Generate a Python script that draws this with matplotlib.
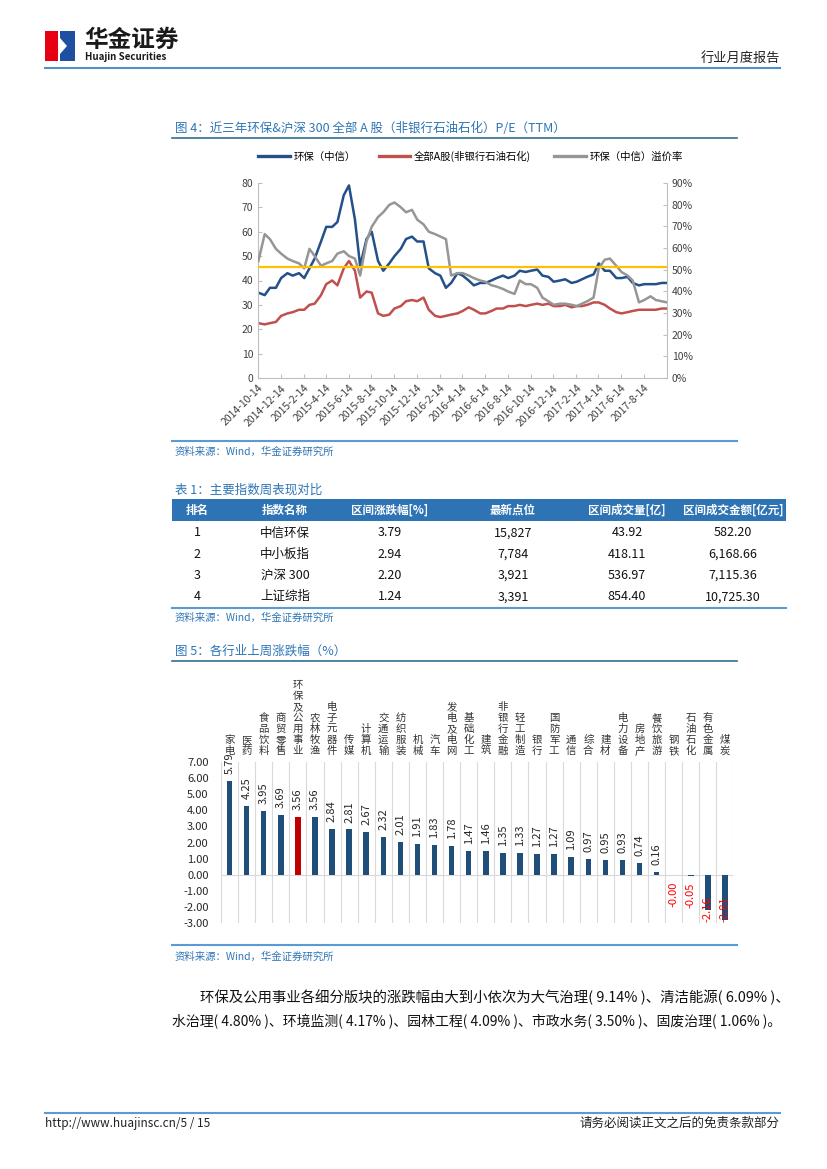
import numpy as np
import pandas as pd
import matplotlib
matplotlib.use("Agg")
import matplotlib.pyplot as plt
from matplotlib.patches import Rectangle, Polygon
from matplotlib.lines import Line2D

plt.rcParams['font.family'] = ['Noto Sans CJK SC', 'DejaVu Sans']
plt.rcParams['axes.unicode_minus'] = False

W, H = 827, 1169

# -----------------------------
# Figure 4 data (semi-monthly readings, Oct 2014 - Oct 2017)
# -----------------------------
pe_dates = pd.date_range("2014-10-14", "2017-10-15", freq="SMS")
pe_env = [35, 34, 37, 37, 41, 43, 42, 43, 41, 45,
          49, 56, 62, 62, 64, 75, 79, 65, 46, 57,
          60, 48, 44, 47, 50, 53, 57, 58, 56, 56,
          45, 43, 42, 37, 39, 43, 42, 40, 38, 39,
          39, 40, 41, 42, 41, 42, 44, 43.5, 44, 44.5,
          42, 41.5, 39.5, 40, 40.5, 39, 39.5, 40.5, 41.5, 42.5,
          47, 44, 44, 41, 41, 41.5, 39, 38, 38.5, 38.5,
          38.5, 39, 39]
pe_all_a = [22.5, 22, 22.5, 23, 25.5, 26.5, 27, 28, 28, 30,
            30.5, 34, 38.5, 40, 38, 45, 48, 44, 33, 35.5,
            35, 26.5, 25.5, 26, 28.5, 29.5, 31.5, 32, 31.5, 33,
            28, 25.5, 25, 25.5, 26, 26.5, 27.5, 29, 28, 26.5,
            26.5, 27.5, 28.5, 28.5, 29.5, 29.5, 30, 29.5, 30, 30.5,
            30, 30.5, 29.5, 29.5, 30, 29, 29.5, 29.5, 30, 31,
            31, 30, 28.5, 27, 26.5, 27, 27.5, 28, 28, 28,
            28, 28.5, 28.5]
premium = [54, 66.4, 64.1, 59.6, 57.4, 55.1, 54, 52.9, 50.6, 59.6,
           56.3, 51.8, 52.9, 54, 57.4, 58.5, 56.3, 55.1, 47.3, 63,
           69.8, 74.3, 76.5, 79.9, 81, 78.8, 76.5, 77.6, 73.1, 70.9,
           67.5, 66.4, 65.3, 64.1, 47.3, 48.4, 48.4, 47.3, 46.1, 45,
           44.4, 42.8, 42.2, 41.1, 39.9, 38.8, 45, 43.3, 43.3, 41.6,
           37.1, 35.4, 33.8, 34.3, 34.3, 33.8, 33.2, 34.3, 35.4, 37.1,
           50.6, 54.6, 55.1, 51.8, 48.9, 47.3, 45, 34.9, 36, 37.7,
           36, 35.4, 34.9]
premium_ref = 51.2
date_ticks = ["2014-10-14", "2014-12-14", "2015-2-14", "2015-4-14", "2015-6-14",
              "2015-8-14", "2015-10-14", "2015-12-14", "2016-2-14", "2016-4-14",
              "2016-6-14", "2016-8-14", "2016-10-14", "2016-12-14", "2017-2-14",
              "2017-4-14", "2017-6-14", "2017-8-14"]

# -----------------------------
# Table 1 data
# -----------------------------
tbl_header = ["排名", "指数名称", "区间涨跌幅[%]", "最新点位", "区间成交量[亿]", "区间成交金额[亿元]"]
tbl_rank = [1, 2, 3, 4]
tbl_name = ["中信环保", "中小板指", "沪深 300", "上证综指"]
tbl_chg = [3.79, 2.94, 2.20, 1.24]
tbl_last = [15827, 7784, 3921, 3391]
tbl_vol = [43.92, 418.11, 536.97, 854.40]
tbl_amt = [582.20, 6168.66, 7115.36, 10725.30]

# -----------------------------
# Figure 5 data
# -----------------------------
industries = ["家电", "医药", "食品饮料", "商贸零售", "环保及公用事业", "农林牧渔", "电子元器件",
              "传媒", "计算机", "交通运输", "纺织服装", "机械", "汽车", "发电及电网", "基础化工",
              "建筑", "非银行金融", "轻工制造", "银行", "国防军工", "通信", "综合", "建材",
              "电力设备", "房地产", "餐饮旅游", "钢铁", "石油石化", "有色金属", "煤炭"]
changes = [5.79, 4.25, 3.95, 3.69, 3.56, 3.56, 2.84, 2.81, 2.67, 2.32, 2.01, 1.91, 1.83, 1.78,
           1.47, 1.46, 1.35, 1.33, 1.27, 1.27, 1.09, 0.97, 0.95, 0.93, 0.74, 0.16, -0.001,
           -0.05, -2.16, -2.81]
highlight = "环保及公用事业"

TITLE_BLUE = '#2E75B6'
RULE_BLUE = '#5B9BD5'
NAVY = '#24508A'
BAR_NAVY = '#1F4E79'

fig = plt.figure(figsize=(W / 100, H / 100), dpi=100)
bg = fig.add_axes([0, 0, 1, 1], zorder=0)
bg.set_xlim(0, W)
bg.set_ylim(H, 0)
bg.axis('off')


def px_axes(x0, y0, x1, y1):
    return fig.add_axes([x0 / W, 1 - y1 / H, (x1 - x0) / W, (y1 - y0) / H])


def hline(y, x0, x1, color=RULE_BLUE, lw=1.5):
    bg.add_line(Line2D([x0, x1], [y, y], color=color, lw=lw))


def source(y):
    bg.text(175, y, "资料来源：Wind，华金证券研究所", fontsize=7.5, color=TITLE_BLUE,
            style='italic', va='center')


# ---- page header
bg.add_patch(Rectangle((45, 31), 13, 30, fc='#E60012', ec='none'))
bg.add_patch(Rectangle((60, 31), 15, 30, fc='#1F4FA0', ec='none'))
bg.add_patch(Polygon([(60, 38), (67, 46), (60, 54)], fc='white', ec='none'))
bg.text(84, 40, "华金证券", fontsize=17, fontweight='bold', color='#1A1A1A', va='center')
bg.text(85, 57, "Huajin Securities", fontsize=7, fontweight='bold', color='#1A1A1A', va='center')
bg.text(780, 58, "行业月度报告", fontsize=9.5, color='#222222', ha='right', va='center')
hline(68, 45, 780, color='#4F8FCB')

# ---- figure 4
bg.text(175, 128, "图 4：近三年环保&沪深 300 全部 A 股（非银行石油石化）P/E（TTM）",
        fontsize=9, color=TITLE_BLUE, va='center')
hline(138, 172, 737, color='#31708F', lw=1.2)

ax = px_axes(258, 183, 667, 378)
ax2 = ax.twinx()
l1, = ax.plot(pe_dates, pe_env, color=NAVY, lw=1.8, label="环保（中信）")
l2, = ax.plot(pe_dates, pe_all_a, color='#C0504D', lw=1.8, label="全部A股(非银行石油石化)")
l3, = ax2.plot(pe_dates, premium, color='#969696', lw=1.8, label="环保（中信）溢价率")
ax2.axhline(premium_ref, color='#FFC000', lw=1.6)
ax.set_ylim(0, 80)
ax2.set_ylim(0, 90)
ax.set_yticks(range(0, 81, 10))
ax2.set_yticks(range(0, 91, 10))
ax2.set_yticklabels([f"{v}%" for v in range(0, 91, 10)])
ax.set_xlim(pd.Timestamp("2014-10-14"), pd.Timestamp("2017-10-15"))
ax.set_xticks([pd.Timestamp(s) for s in date_ticks])
ax.set_xticklabels(date_ticks, rotation=45, ha='right', rotation_mode='anchor', fontsize=7)
for a in (ax, ax2):
    for s in a.spines.values():
        s.set_color('#BFBFBF')
    a.spines['top'].set_visible(False)
    a.tick_params(direction='in', length=3, color='#BFBFBF', labelsize=7.5, labelcolor='#404040')
ax.spines['right'].set_visible(False)
ax2.spines['left'].set_visible(False)
ax2.spines['bottom'].set_visible(False)
leg = ax.legend(handles=[l1, l2, l3], loc='lower center', bbox_to_anchor=(0.52, 1.06), ncol=3,
                frameon=False, fontsize=7.5, handlelength=3.0, columnspacing=2.2, handletextpad=0.4)
for h in leg.get_lines():
    h.set_linewidth(2.4)

hline(441, 172, 737)
source(452)

# ---- table 1
bg.text(175, 490, "表 1：主要指数周表现对比", fontsize=9, color=TITLE_BLUE, va='center')
bg.add_patch(Rectangle((172, 499), 614, 22, fc='#2E74B5', ec='none'))
col_x = [197, 285, 390, 513, 627, 733]
for cx, h in zip(col_x, tbl_header):
    bg.text(cx, 510.5, h, fontsize=8.3, fontweight='bold', color='white', ha='center', va='center')
for i in range(len(tbl_rank)):
    y = 533 + i * 21.3
    cells = [str(tbl_rank[i]), tbl_name[i], f"{tbl_chg[i]:.2f}", f"{tbl_last[i]:,}",
             f"{tbl_vol[i]:.2f}", f"{tbl_amt[i]:,.2f}"]
    for cx, c in zip(col_x, cells):
        bg.text(cx, y, c, fontsize=9, color='#111111', ha='center', va='center')
hline(608, 172, 786)
source(618)

# ---- figure 5
bg.text(175, 651, "图 5：各行业上周涨跌幅（%）", fontsize=9, color=TITLE_BLUE, va='center')
hline(661, 172, 737, color='#31708F', lw=1.2)

bx = px_axes(221, 761.7, 733.5, 923.4)
x = np.arange(len(industries))
colors = ['#C00000' if n == highlight else BAR_NAVY for n in industries]
bx.bar(x, changes, width=0.32, color=colors, zorder=3)
bx.set_xlim(-0.5, len(industries) - 0.5)
bx.set_ylim(-3, 7)
bx.set_yticks(range(-3, 8))
bx.set_yticklabels([f"{v:.2f}" for v in range(-3, 8)])
bx.tick_params(axis='y', length=0, pad=9, labelsize=8, labelcolor='#262626')
bx.set_xticks([])
for s in bx.spines.values():
    s.set_visible(False)
for b in np.arange(-0.5, len(industries), 1.0):
    bx.axvline(b, color='#D9D9D9', lw=0.8, zorder=1)
bx.axhline(0, color='#D9D9D9', lw=0.8, zorder=2)
for i, (name, v) in enumerate(zip(industries, changes)):
    bx.annotate("\n".join(name), (i, 1.0), xycoords=bx.get_xaxis_transform(),
                xytext=(0, 4), textcoords='offset points', ha='center', va='bottom',
                fontsize=7.5, color='#333333', linespacing=1.12)
    lab = f"{v:.2f}"
    if v >= 0:
        bx.annotate(lab, (i, v), xytext=(0, 5), textcoords='offset points', rotation=90,
                    ha='center', va='bottom', fontsize=8, color='#262626')
    elif v > -0.5:
        bx.annotate(lab, (i, v), xytext=(0, -5), textcoords='offset points', rotation=90,
                    ha='center', va='top', fontsize=8, color='#FF0000')
    else:
        bx.annotate(lab, (i, -3), xytext=(0, 1), textcoords='offset points', rotation=90,
                    ha='center', va='bottom', fontsize=8, color='#FF0000', zorder=4)

hline(945, 172, 737)
source(957)

# ---- paragraph
bg.text(200, 997, "环保及公用事业各细分版块的涨跌幅由大到小依次为大气治理( 9.14% )、清洁能源( 6.09% )、",
        fontsize=10.4, color='#111111', va='center')
bg.text(172, 1022, "水治理( 4.80% )、环境监测( 4.17% )、园林工程( 4.09% )、市政水务( 3.50% )、固废治理( 1.06% )。",
        fontsize=10, color='#111111', va='center')

# ---- footer
hline(1113, 45, 780)
bg.text(45, 1123, "http://www.huajinsc.cn/5 / 15", fontsize=8.5, color='#222222', va='center')
bg.text(780, 1123, "请务必阅读正文之后的免责条款部分", fontsize=9, color='#222222', ha='right', va='center')

fig.savefig("out.png", dpi=100)
